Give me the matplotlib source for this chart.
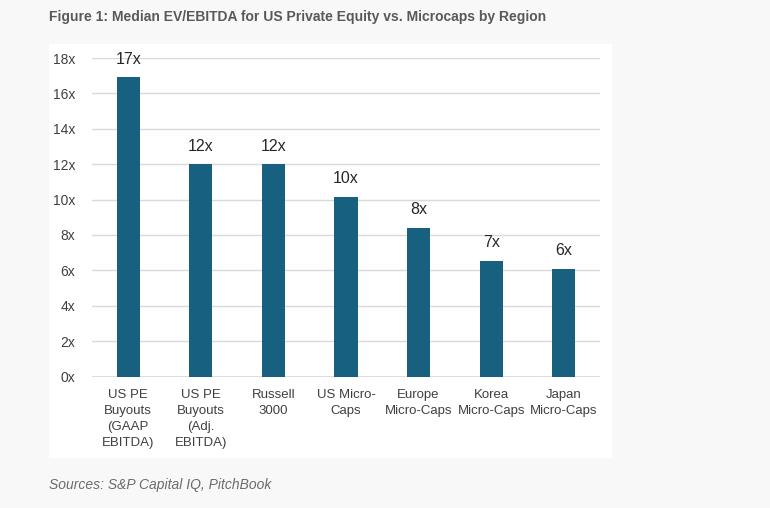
import matplotlib.pyplot as plt
from matplotlib.patches import Rectangle

# chart data
categories = ["US PE\nBuyouts\n(GAAP\nEBITDA)", "US PE\nBuyouts\n(Adj.\nEBITDA)", "Russell\n3000",
              "US Micro-\nCaps", "Europe\nMicro-Caps", "Korea\nMicro-Caps", "Japan\nMicro-Caps"]
values = [16.9, 12.0, 12.0, 10.15, 8.4, 6.55, 6.1]
labels = ["17x", "12x", "12x", "10x", "8x", "7x", "6x"]
yticks = [0, 2, 4, 6, 8, 10, 12, 14, 16, 18]

W, H = 770, 508
fig = plt.figure(figsize=(W / 100, H / 100), dpi=100)
fig.patch.set_facecolor("#f8f8f8")

# white chart panel
fig.add_artist(Rectangle((49 / W, 1 - 458 / H), (612 - 49) / W, (458 - 44) / H,
                         transform=fig.transFigure, facecolor="white", edgecolor="none", zorder=0))

fig.text(49 / W, 1 - 17 / H, "Figure 1: Median EV/EBITDA for US Private Equity vs. Microcaps by Region",
         fontsize=10, fontweight="bold", color="#595959", family="Liberation Sans", va="center")
fig.text(49 / W, 1 - 485 / H, "Sources: S&P Capital IQ, PitchBook", fontsize=10,
         style="italic", color="#6b6b6b", family="Liberation Sans", va="center")

ax = fig.add_axes([92 / W, 1 - 376.5 / H, 508 / W, 318.5 / H])
ax.set_facecolor("white")
x = range(len(categories))
bars = ax.bar(x, values, width=0.32, color="#17607f", zorder=3)
for b, lab in zip(bars, labels):
    ax.text(b.get_x() + b.get_width() / 2, b.get_height() + 0.6, lab, ha="center", va="bottom",
            fontsize=11.5, color="#262626", family="Liberation Sans")

ax.set_xlim(-0.5, len(categories) - 0.5)
ax.set_ylim(0, 18)
ax.set_yticks(yticks)
ax.set_yticklabels([f"{t}x" for t in yticks], fontsize=10, color="#404040", family="Liberation Sans")
ax.set_xticks(list(x))
ax.set_xticklabels(categories, fontsize=9.5, color="#404040", family="Liberation Sans",
                   linespacing=1.45, va="top")
ax.tick_params(axis="both", length=0)
ax.tick_params(axis="y", pad=12)
ax.tick_params(axis="x", pad=9)
ax.grid(axis="y", color="#d9d9d9", linewidth=1, zorder=0)
for s in ax.spines.values():
    s.set_visible(False)
ax.axhline(0, color="#d9d9d9", linewidth=1.2, zorder=2)

fig.savefig("out.png", dpi=100, facecolor=fig.get_facecolor())
